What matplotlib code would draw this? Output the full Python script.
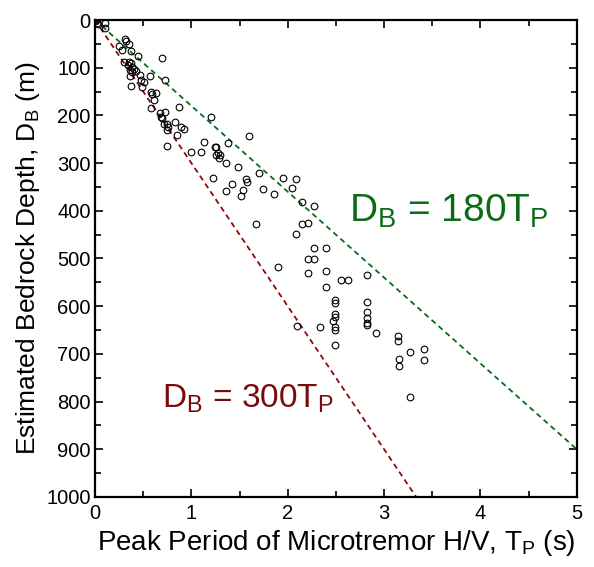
import numpy as np
import matplotlib.pyplot as plt
from matplotlib.ticker import MultipleLocator

plt.rcParams['font.family'] = ['Liberation Sans', 'DejaVu Sans']
plt.rcParams['mathtext.fontset'] = 'custom'
plt.rcParams['mathtext.rm'] = 'Liberation Sans'

# peak period T_P (s) and estimated bedrock depth D_B (m)
period = [0.00, 0.01, 0.02, 0.03, 0.10, 0.10, 0.31, 0.32, 0.35, 0.25,
          0.28, 0.37, 0.45, 0.69, 0.30, 0.35, 0.37, 0.34, 0.38, 0.40,
          0.36, 0.38, 0.43, 0.36, 0.47, 0.48, 0.51, 0.49, 0.37, 0.57,
          0.58, 0.63, 0.59, 0.61, 0.58, 0.73, 0.87, 0.67, 0.73, 0.68,
          0.70, 0.72, 0.75, 0.76, 0.75, 0.83, 0.89, 0.92, 0.85, 0.75,
          1.00, 1.10, 1.20, 1.13, 1.24, 1.26, 1.28, 1.30, 1.26, 1.29,
          1.38, 1.60, 1.36, 1.48, 1.22, 1.42, 1.36, 1.54, 1.51, 1.57,
          1.58, 1.70, 1.74, 1.86, 1.95, 2.09, 2.04, 2.15, 2.27, 2.15,
          2.21, 1.67, 2.09, 2.27, 2.40, 2.21, 2.27, 1.90, 2.21, 2.40,
          2.40, 2.55, 2.63, 2.82, 2.49, 2.49, 2.82, 2.82, 2.49, 2.49,
          2.47, 2.82, 2.82, 2.82, 2.49, 2.49, 2.33, 2.10, 2.92, 3.14,
          3.14, 2.49, 3.41, 3.41, 3.27, 3.15, 3.15, 3.27]
depth = [3, 0, 6, 8, 6, 17, 40, 45, 51, 54,
         63, 66, 75, 80, 87, 87, 91, 94, 98, 103,
         105, 110, 107, 117, 115, 126, 131, 140, 138, 117,
         150, 152, 156, 168, 185, 126, 182, 196, 192, 203,
         206, 217, 217, 224, 231, 213, 224, 229, 241, 264,
         277, 276, 204, 255, 266, 266, 279, 283, 284, 290,
         258, 243, 300, 309, 331, 344, 358, 356, 368, 334,
         340, 321, 355, 365, 332, 333, 352, 382, 389, 428,
         426, 428, 449, 477, 479, 501, 502, 518, 530, 526,
         559, 545, 545, 535, 588, 594, 591, 612, 616, 622,
         630, 625, 635, 640, 644, 650, 643, 641, 657, 662,
         672, 681, 690, 713, 697, 711, 725, 791]

# empirical relations D_B = k * T_P
k_green = 180
k_red = 300

fig = plt.figure(figsize=(5.94, 5.67), dpi=100)
ax = fig.add_axes([0.16, 0.1235, 0.811, 0.8412])

t_green = np.array([0, 5])
ax.plot(t_green, k_green * t_green, '--', color='#0b6b16', lw=1.3, dashes=(3, 2.2))
t_red = np.array([0, 1000 / k_red])
ax.plot(t_red, k_red * t_red, '--', color='#8b0a0a', lw=1.3, dashes=(3, 2.2))

ax.plot(period, depth, 'o', mfc='none', mec='black', ms=4.8, mew=0.8)

ax.text(2.64, 422, r'D$_\mathregular{B}$ = 180T$_\mathregular{P}$', color='#0b6b16',
        fontsize=28, va='baseline')
ax.text(0.70, 812, r'D$_\mathregular{B}$ = 300T$_\mathregular{P}$', color='#7a0a0a',
        fontsize=24, va='baseline')

ax.set_xlim(0, 5)
ax.set_ylim(1000, 0)
ax.xaxis.set_major_locator(MultipleLocator(1))
ax.xaxis.set_minor_locator(MultipleLocator(0.5))
ax.yaxis.set_major_locator(MultipleLocator(100))
ax.yaxis.set_minor_locator(MultipleLocator(50))
ax.tick_params(which='both', direction='in', top=True, right=True, labelsize=14.5, width=1.2)
ax.tick_params(which='major', length=6)
ax.tick_params(which='minor', length=4)
ax.tick_params(axis='x', pad=5)
ax.tick_params(axis='y', pad=3)
for s in ax.spines.values():
    s.set_linewidth(1.6)

ax.set_xlabel(r'Peak Period of Microtremor H/V, T$_\mathregular{P}$ (s)', fontsize=20, labelpad=4)
ax.set_ylabel(r'Estimated Bedrock Depth, D$_\mathregular{B}$ (m)', fontsize=19, labelpad=3)

fig.savefig('out.png', dpi=100)
